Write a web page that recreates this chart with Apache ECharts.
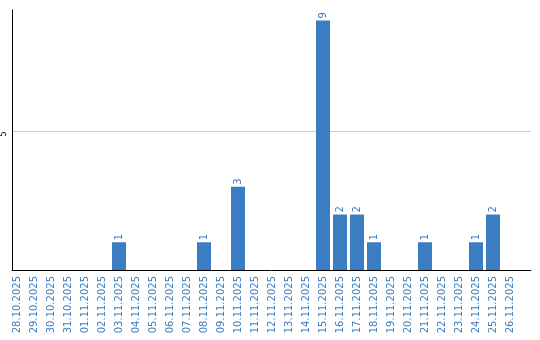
<!DOCTYPE html>
<html><head><meta charset="utf-8">
<script src="https://cdn.jsdelivr.net/npm/echarts@6/dist/echarts.min.js"></script>
<style>html,body{margin:0;padding:0;background:#fff}#c{width:540px;height:340px}</style>
</head><body><div id="c"></div>
<script>
const categories = ['28.10.2025','29.10.2025','30.10.2025','31.10.2025','01.11.2025','02.11.2025','03.11.2025','04.11.2025','05.11.2025','06.11.2025','07.11.2025','08.11.2025','09.11.2025','10.11.2025','11.11.2025','12.11.2025','13.11.2025','14.11.2025','15.11.2025','16.11.2025','17.11.2025','18.11.2025','19.11.2025','20.11.2025','21.11.2025','22.11.2025','23.11.2025','24.11.2025','25.11.2025','26.11.2025'];
const values = [0,0,0,0,0,0,1,0,0,0,0,1,0,3,0,0,0,0,9,2,2,1,0,0,1,0,0,1,2,0];
const yMax = 9.375;
const yInterval = 5;

const blue = '#3a7dc2';
const chart = echarts.init(document.getElementById('c'), null, {renderer:'canvas'});
chart.setOption({
  animation:false,
  grid:[
    {left:8.5, right:21.5, top:10, bottom:70},
    {left:11, right:9, top:10, bottom:70}
  ],
  xAxis:[
    {gridIndex:0, type:'category', data:categories,
     axisLine:{show:false}, axisTick:{show:false},
     axisLabel:{rotate:90, interval:0, margin:6, color:blue, fontSize:10, fontFamily:'DejaVu Sans'}},
    {gridIndex:1, type:'value', min:0, max:1,
     axisLine:{show:true, onZero:false, lineStyle:{color:'#000', width:1}},
     axisTick:{show:false}, axisLabel:{show:false}, splitLine:{show:false}}
  ],
  yAxis:[
    {gridIndex:0, type:'value', min:0, max:yMax, show:false, splitLine:{show:false}},
    {gridIndex:1, type:'value', min:0, max:yMax, interval:yInterval,
     axisLine:{show:true, lineStyle:{color:'#000', width:1}},
     axisTick:{show:false},
     axisLabel:{rotate:90, margin:4, fontSize:8, color:'#000', fontFamily:'DejaVu Sans',
       align:'right', verticalAlign:'bottom',
       formatter:v => (v===yInterval ? String(v) : '')},
     splitLine:{show:true, lineStyle:{color:['transparent','#cccccc','transparent'], width:1}}}
  ],
  series:[{
    type:'bar', xAxisIndex:0, yAxisIndex:0, data:values, barWidth:14,
    itemStyle:{color:blue},
    label:{show:true, position:'top', rotate:90, align:'left', verticalAlign:'middle', distance:2,
      color:blue, fontSize:10, fontFamily:'DejaVu Sans',
      formatter:p => (p.value ? String(p.value) : '')}
  }]
});
</script></body></html>
